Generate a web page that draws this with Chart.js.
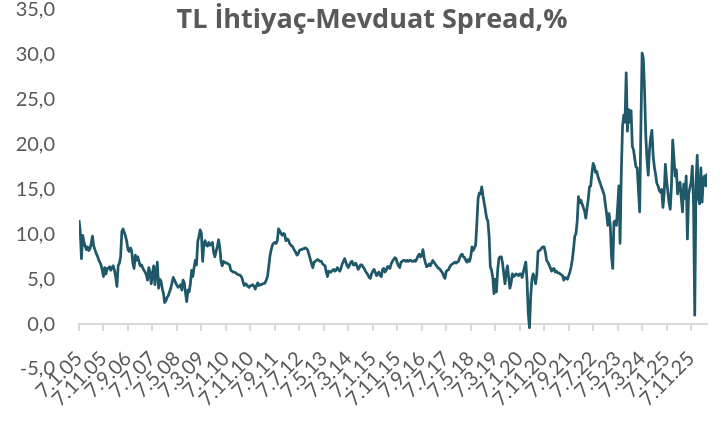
<!DOCTYPE html>
<html>
<head>
<meta charset="utf-8">
<script src="https://cdn.jsdelivr.net/npm/chart.js@4.4.0/dist/chart.umd.min.js"></script>
<style>
  body { margin: 0; background: #fff; }
</style>
</head>
<body>
<canvas id="myChart" width="725" height="421"></canvas>
<script>
var chartTitle = "TL İhtiyaç-Mevduat Spread,%";

// date axis labels, one every 10 months starting 7.1.05
var tickLabels = ["7.1.05", "7.11.05", "7.9.06", "7.7.07", "7.5.08", "7.3.09", "7.1.10",
  "7.11.10", "7.9.11", "7.7.12", "7.5.13", "7.3.14", "7.1.15", "7.11.15", "7.9.16",
  "7.7.17", "7.5.18", "7.3.19", "7.1.20", "7.11.20", "7.9.21", "7.7.22", "7.5.23",
  "7.3.24", "7.1.25", "7.11.25"];
var monthsPerTick = 10;
var yTickValues = [-5, 0, 5, 10, 15, 20, 25, 30, 35];

// spread in %, two readings per month from Jan 2005
var spread = [
  11.6, 10.4, 7.3, 9.9, 9.2, 8.7, 8.3, 8.6, 8.2, 8.4, 9.0, 9.8, 8.7, 8.3, 7.9, 7.6, 7.2, 6.9, 6.6, 6.0, 5.3, 6.3, 5.6, 6.2,
  6.2, 6.4, 6.0, 6.3, 6.5, 6.0, 5.2, 4.2, 6.5, 6.8, 7.5, 10.3, 10.6, 10.2, 9.8, 9.2, 8.3, 8.1, 8.5, 8.2, 6.8, 6.2, 7.7, 7.1,
  7.5, 7.0, 6.5, 6.6, 6.3, 6.0, 5.8, 5.5, 4.9, 6.3, 5.8, 4.5, 5.6, 6.5, 4.4, 5.8, 6.9, 4.0, 5.0, 4.8, 4.0, 3.4, 2.4, 2.6,
  3.0, 3.2, 3.6, 4.0, 4.6, 5.2, 4.9, 4.6, 4.3, 4.1, 4.2, 4.4, 3.8, 4.9, 4.6, 3.5, 2.5, 3.8, 3.6, 4.5, 6.0, 5.3, 6.3, 7.1,
  6.6, 9.2, 9.8, 10.5, 10.1, 7.0, 8.9, 9.3, 8.8, 8.7, 9.1, 8.8, 8.9, 9.1, 8.0, 7.5, 8.1, 8.6, 9.4, 8.6, 7.0, 6.5, 7.0, 6.9,
  6.8, 6.8, 6.7, 6.6, 6.0, 5.9, 5.8, 5.8, 5.7, 5.6, 5.5, 5.5, 5.4, 5.2, 4.7, 4.3, 4.5, 4.4, 4.2, 4.1, 4.3, 4.3, 4.4, 4.2,
  3.9, 4.3, 4.6, 4.3, 4.4, 4.4, 4.5, 4.5, 4.6, 4.9, 5.3, 6.4, 7.6, 8.3, 8.8, 9.0, 9.1, 9.0, 9.3, 10.6, 10.4, 10.1, 9.9, 10.1,
  10.0, 9.3, 9.5, 9.4, 9.0, 8.8, 8.7, 8.5, 8.2, 8.0, 7.7, 7.8, 8.2, 8.3, 8.3, 8.4, 8.4, 8.5, 8.4, 8.2, 7.7, 7.2, 6.7, 6.3,
  6.9, 7.0, 7.1, 7.2, 7.1, 7.0, 7.0, 6.7, 6.6, 6.5, 5.8, 5.3, 5.9, 5.8, 5.8, 6.0, 6.1, 5.9, 6.0, 6.3, 6.1, 5.9, 6.2, 6.7,
  7.0, 7.3, 6.9, 6.5, 6.3, 6.6, 6.9, 7.0, 6.6, 6.6, 6.8, 6.5, 6.1, 6.3, 6.6, 6.6, 6.4, 6.2, 5.9, 5.7, 5.5, 5.2, 5.1, 5.6,
  5.9, 6.1, 5.8, 5.4, 5.6, 5.8, 5.4, 5.3, 6.1, 6.2, 5.8, 6.0, 6.4, 6.4, 6.2, 6.7, 7.0, 7.2, 7.4, 7.3, 6.8, 6.5, 6.3, 6.9,
  7.0, 7.1, 7.1, 7.0, 7.1, 7.0, 7.1, 7.1, 7.0, 7.0, 7.1, 7.0, 7.3, 7.6, 7.8, 7.5, 7.6, 8.3, 7.4, 6.8, 6.4, 6.5, 6.7, 6.5,
  6.8, 7.1, 6.9, 6.7, 6.5, 6.3, 6.2, 6.1, 5.9, 5.7, 5.3, 5.1, 5.9, 6.0, 6.1, 6.4, 6.6, 6.7, 6.8, 6.9, 6.8, 6.9, 7.0, 7.4,
  7.7, 7.8, 7.5, 7.4, 7.1, 6.9, 7.2, 7.0, 7.5, 8.6, 8.2, 8.5, 8.8, 11.2, 14.0, 14.6, 14.5, 15.3, 14.3, 13.5, 12.7, 11.8, 11.5, 9.8,
  6.4, 6.0, 5.2, 3.4, 5.0, 3.6, 6.0, 7.3, 7.5, 7.5, 6.8, 5.6, 4.5, 5.8, 6.5, 5.2, 4.0, 4.6, 5.6, 5.3, 5.4, 5.6, 5.5, 5.4,
  5.6, 5.6, 5.2, 5.8, 6.4, 6.9, 4.8, 1.2, -0.4, 3.1, 5.0, 5.6, 5.2, 4.5, 5.6, 8.1, 8.2, 8.3, 8.5, 8.6, 8.6, 8.0, 7.1, 6.9,
  6.6, 6.3, 5.9, 6.1, 6.2, 5.8, 5.9, 5.7, 5.7, 5.6, 5.5, 5.4, 4.9, 5.2, 5.1, 5.0, 5.4, 5.8, 6.4, 7.2, 8.4, 9.8, 10.1, 11.5,
  14.2, 13.5, 13.8, 13.4, 13.0, 12.6, 11.8, 12.9, 13.9, 15.3, 15.4, 16.8, 17.9, 17.6, 16.9, 17.0, 16.4, 16.0, 15.6, 15.2, 14.8, 14.4, 13.3, 12.3,
  11.0, 12.3, 11.0, 7.5, 6.2, 11.4, 11.5, 11.0, 13.0, 15.4, 9.0, 16.9, 22.0, 23.3, 22.5, 28.0, 21.5, 23.9, 22.5, 23.8, 19.8, 19.4, 18.4, 17.5,
  17.4, 14.9, 12.5, 22.0, 30.2, 29.6, 26.0, 21.0, 18.3, 16.6, 19.4, 20.8, 21.6, 18.8, 17.5, 16.7, 15.7, 15.4, 14.9, 14.7, 15.0, 13.0, 14.5, 17.8,
  16.0, 14.8, 13.5, 12.8, 15.5, 20.5, 18.5, 16.5, 17.2, 14.5, 15.6, 15.8, 14.0, 12.5, 15.6, 14.0, 16.5, 9.5, 14.5, 15.2, 15.8, 17.6, 13.4, 1.0,
  15.5, 18.8, 14.0, 13.4, 17.4, 13.6, 16.2, 16.5, 15.4, 16.8
];

var textColor = "#595959";
var axisColor = "#d9d9d9";

// x value = months since January 2005
var points = spread.map(function (v, i) {
  return { x: i / 2, y: v };
});

// title drawn over the top of the plot, like the original
var titlePlugin = {
  id: "overlayTitle",
  afterDraw: function (chart) {
    var ctx = chart.ctx;
    ctx.save();
    ctx.font = "bold 27px 'Open Sans'";
    ctx.fillStyle = textColor;
    ctx.textAlign = "center";
    ctx.textBaseline = "alphabetic";
    ctx.fillText(chartTitle, 372, 28);
    ctx.restore();
  }
};

var ctx = document.getElementById("myChart").getContext("2d");
var myChart = new Chart(ctx, {
  type: "line",
  data: {
    datasets: [
      {
        label: chartTitle,
        data: points,
        borderColor: "#1f5869",
        borderWidth: 2.75,
        pointRadius: 0,
        tension: 0,
        borderJoinStyle: "round",
        fill: false,
      },
    ],
  },
  plugins: [titlePlugin],
  options: {
    responsive: false,
    animation: false,
    devicePixelRatio: 1,
    layout: {
      padding: { left: 0, right: 18, top: 10, bottom: 52 },
    },
    plugins: {
      legend: { display: false },
      tooltip: { enabled: false },
    },
    scales: {
      x: {
        type: "linear",
        position: { y: 0 },
        min: 0,
        max: (spread.length - 1) / 2,
        afterBuildTicks: function (scale) {
          scale.ticks = tickLabels.map(function (t, i) {
            return { value: i * monthsPerTick };
          });
        },
        ticks: {
          autoSkip: false,
          minRotation: 45,
          maxRotation: 45,
          padding: 18,
          color: textColor,
          font: { family: "Lato", size: 20, lineHeight: 1 },
          callback: function (value, index) {
            return tickLabels[index];
          },
        },
        grid: {
          drawOnChartArea: false,
          drawTicks: true,
          tickLength: 6,
          color: axisColor,
          lineWidth: 2,
        },
        border: { display: true, color: axisColor, width: 2 },
      },
      y: {
        min: -5,
        max: 35,
        afterBuildTicks: function (scale) {
          scale.ticks = yTickValues.map(function (v) {
            return { value: v };
          });
        },
        afterFit: function (scale) {
          scale.width = 79;
          scale.paddingTop = 0;
          scale.paddingBottom = 0;
        },
        ticks: {
          padding: 24,
          color: textColor,
          font: { family: "Lato", size: 20, lineHeight: 1 },
          callback: function (value) {
            return value.toFixed(1).replace(".", ",");
          },
        },
        grid: { display: false, drawTicks: false },
        border: { display: false },
      },
    },
  },
});
</script>
</body>
</html>
